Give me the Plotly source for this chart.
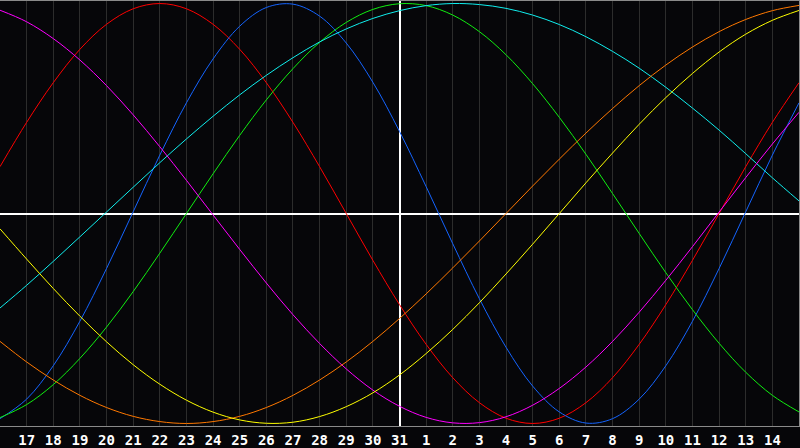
import plotly.graph_objects as go

# day offsets from today (31st) and the labels under the grid lines
offsets = list(range(-15, 16))
tick_pos = list(range(-14, 15))
day_labels = ["17", "18", "19", "20", "21", "22", "23", "24", "25", "26", "27", "28", "29", "30", "31",
              "1", "2", "3", "4", "5", "6", "7", "8", "9", "10", "11", "12", "13", "14"]

# cycle values, one per day (16th .. 15th)
red = [0.223, 0.434, 0.623, 0.782, 0.901, 0.975, 1.0, 0.975, 0.901, 0.782, 0.623, 0.434, 0.223, 0.0,
       -0.223, -0.434, -0.623, -0.782, -0.901, -0.975, -1.0, -0.975, -0.901, -0.782, -0.623, -0.434,
       -0.223, 0.0, 0.223, 0.434, 0.623]
blue = [-0.977, -0.884, -0.725, -0.513, -0.262, 0.008, 0.278, 0.527, 0.736, 0.892, 0.981, 0.997, 0.940,
        0.812, 0.625, 0.391, 0.128, -0.144, -0.406, -0.637, -0.822, -0.945, -0.998, -0.977, -0.884,
        -0.725, -0.513, -0.262, 0.008, 0.278, 0.527]
green = [-0.972, -0.910, -0.815, -0.690, -0.541, -0.372, -0.189, 0.0, 0.189, 0.372, 0.541, 0.690, 0.815,
         0.910, 0.972, 0.999, 0.990, 0.945, 0.866, 0.756, 0.618, 0.458, 0.282, 0.095, -0.095, -0.282,
         -0.458, -0.618, -0.756, -0.866, -0.945]
cyan = [-0.450, -0.342, -0.228, -0.111, 0.007, 0.125, 0.242, 0.355, 0.463, 0.565, 0.658, 0.742, 0.817,
        0.879, 0.929, 0.966, 0.990, 1.0, 0.995, 0.977, 0.945, 0.900, 0.842, 0.772, 0.692, 0.601, 0.502,
        0.397, 0.285, 0.170, 0.060]
magenta = [0.968, 0.913, 0.833, 0.731, 0.609, 0.470, 0.318, 0.158, -0.007, -0.171, -0.331, -0.482, -0.619,
           -0.740, -0.841, -0.918, -0.971, -0.997, -0.996, -0.968, -0.913, -0.833, -0.731, -0.609, -0.470,
           -0.318, -0.158, 0.007, 0.171, 0.331, 0.482]
orange = [-0.609, -0.707, -0.793, -0.866, -0.924, -0.966, -0.991, -1.0, -0.991, -0.966, -0.924, -0.866,
          -0.793, -0.707, -0.609, -0.5, -0.383, -0.259, -0.131, 0.0, 0.131, 0.259, 0.383, 0.5, 0.609,
          0.707, 0.793, 0.866, 0.924, 0.966, 0.991]
yellow = [-0.073, -0.217, -0.357, -0.489, -0.611, -0.720, -0.813, -0.889, -0.946, -0.983, -0.999, -0.994,
          -0.967, -0.920, -0.854, -0.769, -0.667, -0.552, -0.425, -0.288, -0.146, 0.0, 0.146, 0.288,
          0.425, 0.552, 0.667, 0.769, 0.854, 0.920, 0.967]

series = [
    (red, "#ff0000"),
    (blue, "#1464ff"),
    (green, "#10ee10"),
    (cyan, "#10eeee"),
    (magenta, "#ff00ff"),
    (orange, "#ff7800"),
    (yellow, "#ffff00"),
]

fig = go.Figure()
for vals, col in series:
    fig.add_trace(go.Scatter(x=offsets, y=vals, mode="lines",
                             line=dict(color=col, width=1, shape="spline"),
                             hoverinfo="skip"))

fig.update_layout(
    width=800, height=448,
    margin=dict(l=0, r=0, t=0, b=20),
    paper_bgcolor="#060609",
    plot_bgcolor="#060609",
    showlegend=False,
)
fig.update_xaxes(
    range=[-15, 15],
    tickvals=tick_pos, ticktext=day_labels,
    tickfont=dict(family="DejaVu Sans Mono", size=14, color="white", weight="bold"),
    showgrid=True, gridcolor="#2c2c2c", gridwidth=1,
    zeroline=True, zerolinecolor="white", zerolinewidth=1.5,
    showline=True, linecolor="#8a8a8a", linewidth=1, mirror=True,
    ticks="", ticklabelstandoff=1,
)
fig.update_yaxes(
    range=[-1.012, 1.012],
    showticklabels=False, showgrid=False,
    zeroline=True, zerolinecolor="white", zerolinewidth=1.5,
    showline=True, linecolor="#8a8a8a", linewidth=1, mirror=True,
)

# page body has a default margin; drop it so the figure sits at the window corner
fig.write_html("out.html", config={"displayModeBar": False},
               post_script="document.body.style.margin='0';document.body.style.overflow='hidden';")
